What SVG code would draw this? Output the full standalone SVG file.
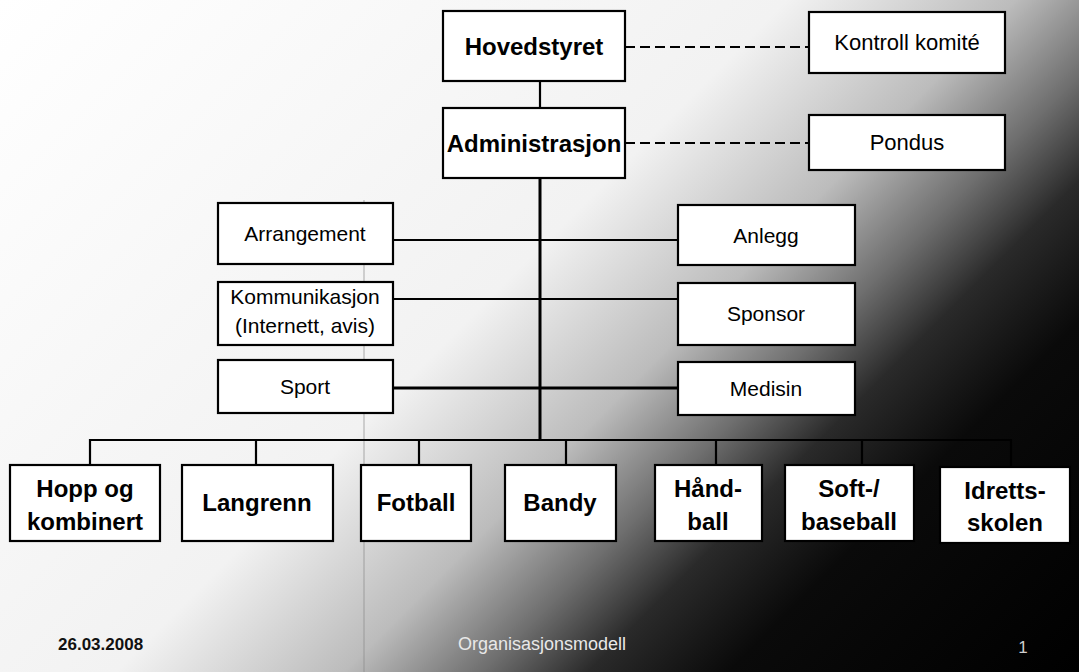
<svg xmlns="http://www.w3.org/2000/svg" width="1079" height="672" viewBox="0 0 1079 672">
<style>
.box{fill:#fff;stroke:#000;stroke-width:2.2}
.ln{stroke:#000;stroke-width:2.2;fill:none}
.dash{stroke:#000;stroke-width:2.2;fill:none;stroke-dasharray:10 5}
.tb{font-family:"Liberation Sans",Arial,sans-serif;font-weight:bold;font-size:24px;fill:#000;text-anchor:middle}
.tn{font-family:"Liberation Sans",Arial,sans-serif;font-size:21px;fill:#000;text-anchor:middle}
.tk{font-family:"Liberation Sans",Arial,sans-serif;font-size:22px;fill:#000;text-anchor:middle}
</style>
<defs>
<linearGradient id="bg" gradientUnits="userSpaceOnUse" x1="0" y1="0" x2="875" y2="875">
<stop offset="0" stop-color="#ffffff"/>
<stop offset="0.45" stop-color="#f2f2f2"/>
<stop offset="0.58" stop-color="#bcbcbc"/>
<stop offset="0.66" stop-color="#6e6e6e"/>
<stop offset="0.72" stop-color="#2a2a2a"/>
<stop offset="0.8" stop-color="#0a0a0a"/>
<stop offset="1" stop-color="#000000"/>
</linearGradient>
</defs>
<rect x="0" y="0" width="1079" height="672" fill="url(#bg)"/>
<line x1="364" y1="200" x2="364" y2="672" stroke="#8a8a8a" stroke-width="1" opacity="0.7"/>

<g id="connectors">
<line class="ln" x1="540" y1="81" x2="540" y2="108"/>
<line class="ln" x1="540" y1="178" x2="540" y2="440" style="stroke-width:3"/>
<line class="dash" x1="625" y1="47" x2="809" y2="47"/>
<line class="dash" x1="625" y1="143" x2="809" y2="143"/>
<line class="ln" x1="393" y1="240" x2="678" y2="240"/>
<line class="ln" x1="393" y1="299" x2="678" y2="299"/>
<line class="ln" x1="393" y1="388" x2="678" y2="388" style="stroke-width:3"/>
<polyline class="ln" points="90,465 90,440 1011,440 1011,468"/>
<line class="ln" x1="256" y1="440" x2="256" y2="465"/>
<line class="ln" x1="419" y1="440" x2="419" y2="465"/>
<line class="ln" x1="566" y1="440" x2="566" y2="465"/>
<line class="ln" x1="716" y1="440" x2="716" y2="465"/>
<line class="ln" x1="862" y1="440" x2="862" y2="465"/>
</g>

<g id="hovedstyret"><rect class="box" x="443" y="11" width="182" height="70"/><text class="tb" x="534" y="55">Hovedstyret</text></g>
<g id="kontroll"><rect class="box" x="809" y="12" width="196" height="61"/><text class="tk" x="907" y="50">Kontroll komité</text></g>
<g id="administrasjon"><rect class="box" x="443" y="108" width="182" height="70"/><text class="tb" x="534" y="152">Administrasjon</text></g>
<g id="pondus"><rect class="box" x="809" y="115" width="196" height="55"/><text class="tk" x="907" y="150">Pondus</text></g>

<g id="arrangement"><rect class="box" x="218" y="203" width="175" height="61"/><text class="tn" x="305" y="241">Arrangement</text></g>
<g id="kommunikasjon"><rect class="box" x="218" y="282" width="175" height="63"/><text class="tn" x="305" y="304">Kommunikasjon</text><text class="tn" x="305" y="333">(Internett, avis)</text></g>
<g id="sport"><rect class="box" x="218" y="360" width="175" height="53"/><text class="tn" x="305" y="394">Sport</text></g>
<g id="anlegg"><rect class="box" x="678" y="205" width="177" height="60"/><text class="tn" x="766" y="243">Anlegg</text></g>
<g id="sponsor"><rect class="box" x="678" y="283" width="177" height="62"/><text class="tn" x="766" y="321">Sponsor</text></g>
<g id="medisin"><rect class="box" x="678" y="362" width="177" height="53"/><text class="tn" x="766" y="396">Medisin</text></g>

<g id="hopp"><rect class="box" x="10" y="465" width="150" height="76"/><text class="tb" x="85" y="497">Hopp og</text><text class="tb" x="85" y="530">kombinert</text></g>
<g id="langrenn"><rect class="box" x="182" y="465" width="151" height="76"/><text class="tb" x="257" y="511">Langrenn</text></g>
<g id="fotball"><rect class="box" x="361" y="465" width="110" height="76"/><text class="tb" x="416" y="511">Fotball</text></g>
<g id="bandy"><rect class="box" x="505" y="465" width="111" height="76"/><text class="tb" x="560" y="511">Bandy</text></g>
<g id="handball"><rect class="box" x="655" y="465" width="107" height="76"/><text class="tb" x="708" y="497">Hånd-</text><text class="tb" x="708" y="530">ball</text></g>
<g id="softball"><rect class="box" x="785" y="465" width="129" height="76"/><text class="tb" x="849" y="497">Soft-/</text><text class="tb" x="849" y="530">baseball</text></g>
<g id="idrettsskolen"><rect class="box" x="940" y="467" width="130" height="76"/><text class="tb" x="1005" y="499">Idretts-</text><text class="tb" x="1005" y="531">skolen</text></g>

<g id="footer">
<text x="58" y="650" style="font-family:'Liberation Sans',Arial,sans-serif;font-weight:bold;font-size:17px;fill:#111">26.03.2008</text>
<text x="542" y="650" style="font-family:'Liberation Sans',Arial,sans-serif;font-size:18px;fill:#e8e8e8;text-anchor:middle">Organisasjonsmodell</text>
<text x="1023" y="653" style="font-family:'Liberation Sans',Arial,sans-serif;font-size:17px;fill:#cfcfcf;text-anchor:middle">1</text>
</g>
</svg>
